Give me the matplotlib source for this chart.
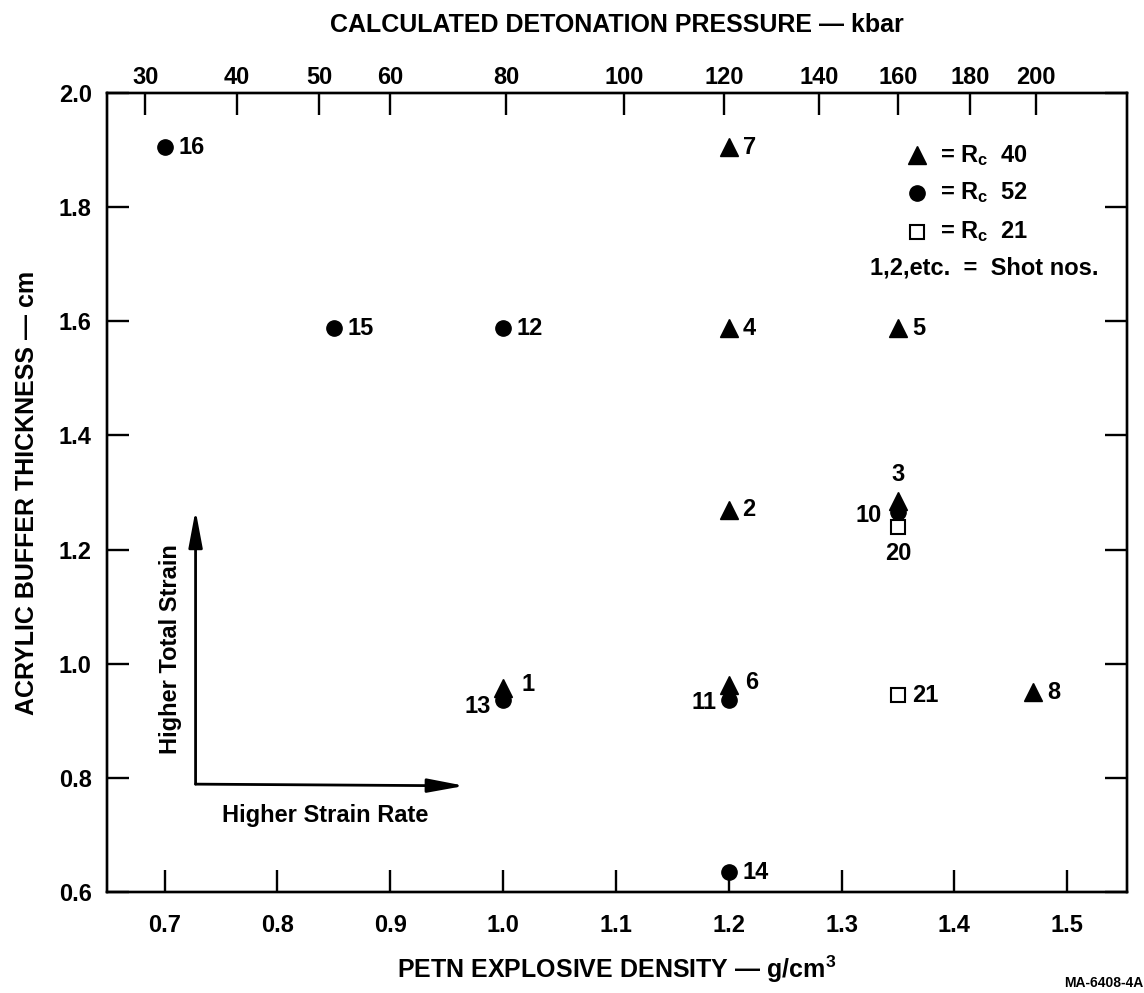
import matplotlib
matplotlib.use("Agg")
import matplotlib.pyplot as plt

plt.rcParams['font.family'] = ['Liberation Sans', 'DejaVu Sans']
plt.rcParams['font.weight'] = 'bold'
plt.rcParams['axes.labelweight'] = 'bold'
plt.rcParams['mathtext.fontset'] = 'custom'
plt.rcParams['mathtext.rm'] = 'Liberation Sans:bold'
plt.rcParams['mathtext.it'] = 'Liberation Sans:bold'
plt.rcParams['mathtext.bf'] = 'Liberation Sans:bold'

# Shots with Rc 40 targets (filled triangles)
rc40_shots = [7, 4, 5, 2, 3, 1, 6, 8]
rc40_density = [1.20, 1.20, 1.35, 1.20, 1.35, 1.00, 1.20, 1.47]
rc40_thickness = [1.905, 1.5875, 1.5875, 1.27, 1.285, 0.957, 0.963, 0.95]

# Shots with Rc 52 targets (filled circles)
rc52_shots = [16, 15, 12, 10, 13, 11, 14]
rc52_density = [0.70, 0.85, 1.00, 1.35, 1.00, 1.20, 1.20]
rc52_thickness = [1.905, 1.5875, 1.5875, 1.265, 0.937, 0.937, 0.635]

# Shots with Rc 21 targets (open squares)
rc21_shots = [20, 21]
rc21_density = [1.35, 1.35]
rc21_thickness = [1.24, 0.945]

# Bottom axis: PETN density ticks
density_ticks = [0.7, 0.8, 0.9, 1.0, 1.1, 1.2, 1.3, 1.4, 1.5]
# Left axis: buffer thickness ticks
thickness_ticks = [0.6, 0.8, 1.0, 1.2, 1.4, 1.6, 1.8, 2.0]
# Top axis: calculated detonation pressure and the density where each occurs
pressure_labels = [30, 40, 50, 60, 80, 100, 120, 140, 160, 180, 200]
pressure_density = [0.683, 0.764, 0.837, 0.900, 1.003, 1.107, 1.196,
                    1.280, 1.350, 1.414, 1.472]

# Shot-number label placement (dx, dy in points, horizontal alignment)
default_offset = (10, 0, 'left')
label_offsets = {
    13: (-9, -5, 'right'),
    11: (-9, -2, 'right'),
    1: (13, 3, 'left'),
    6: (12, 2, 'left'),
    3: (0, 19, 'center'),
    10: (-12, -2, 'right'),
    20: (0, -19, 'center'),
}

W, H = 1144, 993
fig = plt.figure(figsize=(W / 100, H / 100), dpi=100)
left, right, top, bottom = 107, 1127, 93, 892
ax = fig.add_axes([left / W, 1 - bottom / H, (right - left) / W, (bottom - top) / H])

ax.set_xlim(0.649, 1.553)
ax.set_ylim(0.6, 2.0)

lw = 1.7
for sp in ax.spines.values():
    sp.set_linewidth(lw)
    sp.set_color('black')

fs = 17
ax.set_xticks(density_ticks)
ax.set_xticklabels([f"{v:.1f}" for v in density_ticks])
ax.set_yticks(thickness_ticks)
ax.set_yticklabels([f"{v:.1f}" for v in thickness_ticks])
ax.tick_params(axis='both', which='major', direction='in', length=16, width=lw,
               labelsize=fs, pad=11, top=False, right=True, colors='black')
ax.tick_params(axis='x', pad=16)

ax2 = ax.twiny()
ax2.set_xlim(ax.get_xlim())
ax2.set_xticks(pressure_density)
ax2.set_xticklabels([str(p) for p in pressure_labels])
ax2.tick_params(axis='x', direction='in', length=16, width=lw, labelsize=fs, pad=3)
for sp in ax2.spines.values():
    sp.set_linewidth(lw)

title_fs = 18
ax.set_xlabel("PETN EXPLOSIVE DENSITY — g/cm$^\\mathregular{3}$", fontsize=title_fs,
              labelpad=12)
ax.set_ylabel("ACRYLIC BUFFER THICKNESS — cm", fontsize=title_fs, labelpad=14)
ax2.set_xlabel("CALCULATED DETONATION PRESSURE — kbar", fontsize=title_fs, labelpad=24)

ax.plot(rc40_density, rc40_thickness, linestyle='none', marker='^', markersize=13,
        color='black', zorder=4)
ax.plot(rc52_density, rc52_thickness, linestyle='none', marker='o', markersize=11,
        color='black', zorder=4)
ax.plot(rc21_density, rc21_thickness, linestyle='none', marker='s', markersize=9.5,
        markerfacecolor='white', markeredgecolor='black', markeredgewidth=1.5, zorder=3)

for shots, xs, ys in [(rc40_shots, rc40_density, rc40_thickness),
                      (rc52_shots, rc52_density, rc52_thickness),
                      (rc21_shots, rc21_density, rc21_thickness)]:
    for s, x, y in zip(shots, xs, ys):
        dx, dy, ha = label_offsets.get(s, default_offset)
        ax.annotate(str(s), (x, y), xytext=(dx, dy), textcoords='offset points',
                    ha=ha, va='center', fontsize=fs)

# Key in the upper right corner
key_x, text_x = 0.794, 0.817
key_rows = [('^', 13, 'black', '= R$_\\mathregular{c}$  40', 0.922),
            ('o', 11, 'black', '= R$_\\mathregular{c}$  52', 0.875),
            ('s', 9.5, 'white', '= R$_\\mathregular{c}$  21', 0.826)]
for mk, ms, fc, txt, yy in key_rows:
    ax.plot([key_x], [yy], transform=ax.transAxes, marker=mk, markersize=ms,
            markerfacecolor=fc, markeredgecolor='black',
            markeredgewidth=1.5 if fc == 'white' else 1.0, linestyle='none', clip_on=False)
    ax.text(text_x, yy, txt, transform=ax.transAxes, ha='left', va='center', fontsize=fs)
ax.text(0.972, 0.781, "1,2,etc.  =  Shot nos.", transform=ax.transAxes,
        ha='right', va='center', fontsize=fs)

# Trend arrows
corner = (0.7275, 0.789)
arrow_kw = dict(arrowstyle='-|>,head_length=1.6,head_width=0.3', color='black',
                lw=2.0, mutation_scale=14, shrinkA=0, shrinkB=0)
ax.annotate('', xy=(0.7275, 1.269), xytext=corner, arrowprops=arrow_kw)
ax.annotate('', xy=(0.966, 0.786), xytext=corner, arrowprops=arrow_kw)
ax.text(0.7055, 1.026, "Higher Total Strain", rotation=90, ha='center', va='center',
        fontsize=17)
ax.text(0.842, 0.734, "Higher Strain Rate", ha='center', va='center', fontsize=17)

fig.text(1143 / W, 1 - 983 / H, "MA-6408-4A", ha='right', va='center', fontsize=10,
         fontweight='bold')

fig.savefig("out.png", dpi=100, facecolor='white')
